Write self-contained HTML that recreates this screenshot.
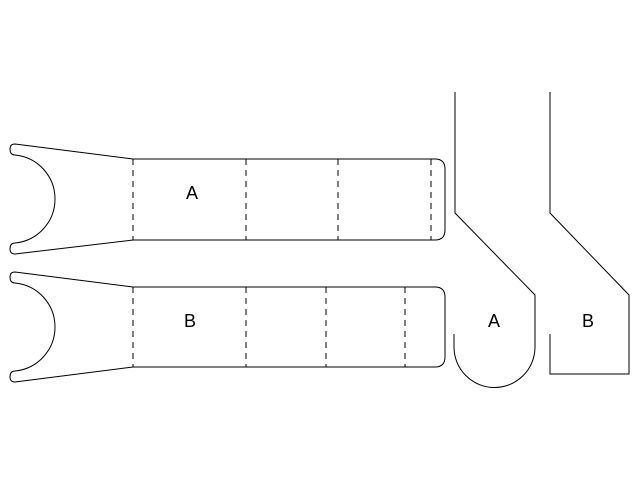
<!DOCTYPE html>
<html><head><style>html,body{margin:0;padding:0;background:#fff}</style></head>
<body>
<svg width="640" height="480" xmlns="http://www.w3.org/2000/svg" font-family="Liberation Sans, sans-serif">
<g fill="none" stroke="#000" stroke-width="1">
 <!-- top strip -->
 <path d="M133,159 L15,144 Q10,144 10,149 Q10,155 15,155 A44.2,44.2 0 0 1 15,243 Q10,243 10,249 Q10,254 15,254 L133,240 L435,240 Q445,240 445,230 L445,169 Q445,159 435,159 Z"/>
 <g stroke-dasharray="6,5">
  <line x1="133" y1="159" x2="133" y2="240"/>
  <line x1="246" y1="159" x2="246" y2="240"/>
  <line x1="338" y1="159" x2="338" y2="240"/>
  <line x1="431" y1="159" x2="431" y2="240"/>
 </g>
 <!-- bottom strip -->
 <path d="M133,287 L15,272 Q10,272 10,277 Q10,283 15,283 A44.2,44.2 0 0 1 15,371 Q10,371 10,377 Q10,382 15,382 L133,367 L435,367 Q445,367 445,357 L445,297 Q445,287 435,287 Z"/>
 <g stroke-dasharray="6,5">
  <line x1="133" y1="287" x2="133" y2="367"/>
  <line x1="246" y1="287" x2="246" y2="367"/>
  <line x1="326" y1="287" x2="326" y2="367"/>
  <line x1="405" y1="287" x2="405" y2="367"/>
 </g>
 <!-- right A -->
 <path d="M455,92 L455,213 L535,295 L535,347 A40.5,40.5 0 0 1 454,347 L454,334"/>
 <!-- right B -->
 <path d="M550,92 L550,213 L629,295 L629,374 L550,374 L550,334"/>
</g>
<g font-size="18" fill="#000" text-anchor="middle">
 <text x="192" y="199">A</text>
 <text x="190" y="327">B</text>
 <text x="494" y="327">A</text>
 <text x="588" y="327">B</text>
</g>
</svg>
</body></html>
